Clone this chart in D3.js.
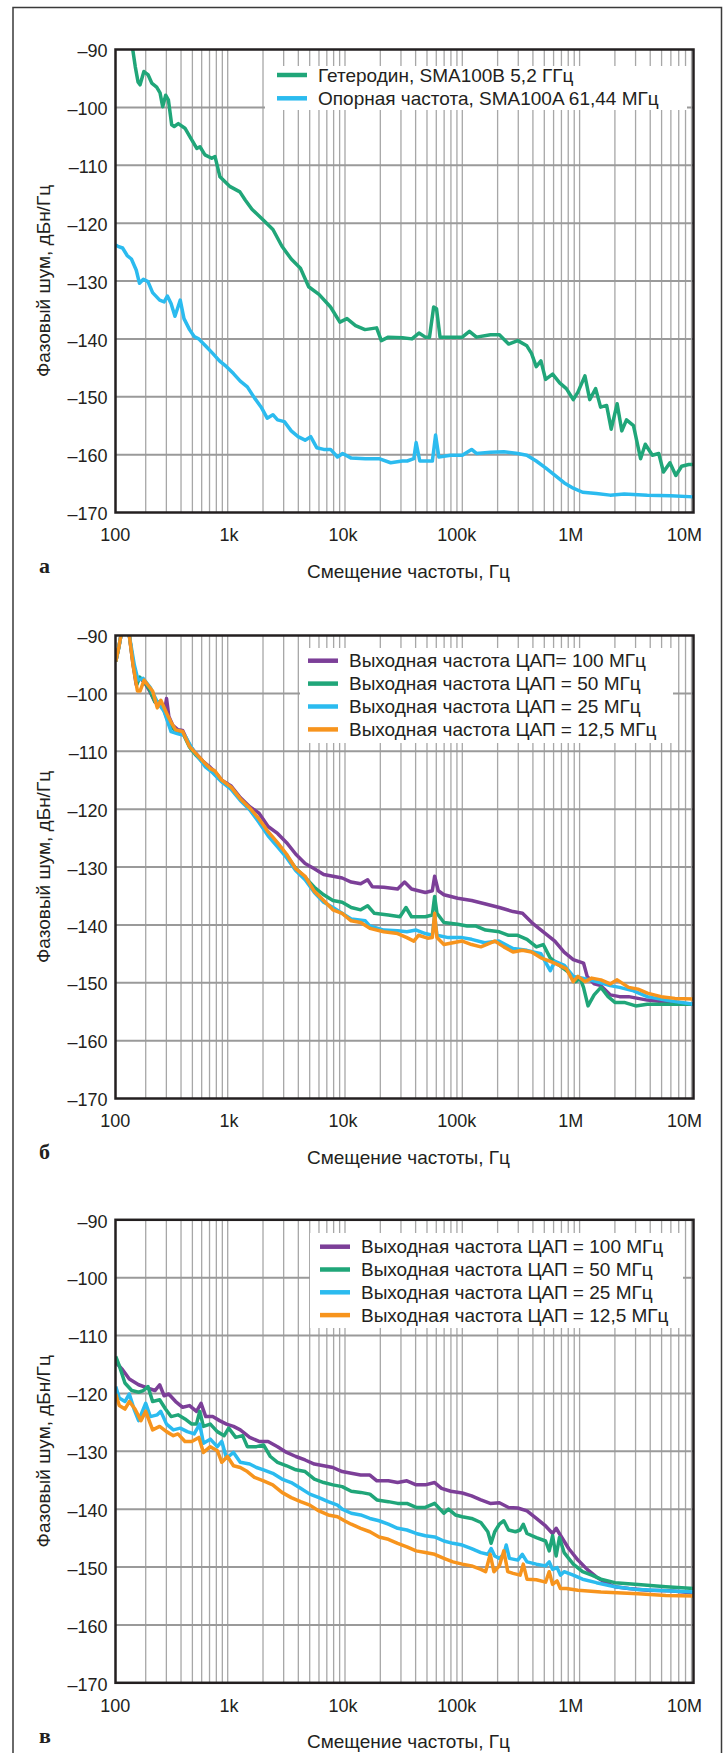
<!DOCTYPE html>
<html>
<head>
<meta charset="utf-8">
<script src="https://cdnjs.cloudflare.com/ajax/libs/d3/7.8.5/d3.min.js"></script>
<style>
body{margin:0;background:#fff;}
text{font-family:"Liberation Sans",Arial,sans-serif;fill:#231f20;}
</style>
</head>
<body>
<div id="chart"></div>
<script>
// оси
var xTicks = [100, 1e3, 1e4, 1e5, 1e6, 1e7];
var xTickLabels = ["100", "1k", "10k", "100k", "1M", "10M"];
var yTicks = [-170, -160, -150, -140, -130, -120, -110, -100, -90];
var xTitle = "Смещение частоты, Гц";
var yTitle = "Фазовый шум, дБн/Гц";
var panelLabels = ["а", "б", "в"];

var legendA = ["Гетеродин, SMA100B 5,2 ГГц", "Опорная частота, SMA100A 61,44 МГц"];
var legendB = ["Выходная частота ЦАП= 100 МГц", "Выходная частота ЦАП = 50 МГц",
    "Выходная частота ЦАП = 25 МГц", "Выходная частота ЦАП = 12,5 МГц"];
var legendC = ["Выходная частота ЦАП = 100 МГц", "Выходная частота ЦАП = 50 МГц",
    "Выходная частота ЦАП = 25 МГц", "Выходная частота ЦАП = 12,5 МГц"];

// [частота, Гц ; шум, дБн/Гц]
var loA = [[150,-87],[155,-90],[163,-93],[172,-95.6],[179,-96.1],[193,-93.8],[210,-94.4],[225,-95.8],[248,-96.5],
    [265,-97.5],[279,-99.9],[296,-97.9],[312,-98.7],[333,-103],[350,-103.3],[379,-102.8],[432,-103.6],[477,-105.1],
    [545,-107.1],[580,-106.8],[640,-108.2],[731,-108.8],[780,-108.5],[859,-112],[1050,-113.7],[1270,-114.6],
    [1410,-116],[1610,-117.6],[2020,-119.5],[2430,-121.1],[2900,-124],[3480,-126.2],[4170,-127.8],[4900,-131],
    [6000,-132.3],[7530,-134.5],[9040,-137.1],[10400,-136.5],[12300,-137.7],[14800,-138.4],[18600,-138.1],
    [20400,-140.3],[23400,-139.7],[30900,-139.8],[37200,-140],[42700,-139],[48400,-139.7],[52500,-139.7],
    [57000,-134.5],[60300,-134.8],[64600,-139.7],[83200,-139.7],[100000,-139.7],[115000,-138.7],[132000,-139.7],
    [174000,-139.3],[207000,-139.3],[248000,-140.9],[297000,-140.3],[355000,-141.2],[389000,-142.5],
    [427000,-144.8],[468000,-143.8],[513000,-147],[589000,-146.1],[676000,-147.6],[771000,-148.6],
    [883000,-150.5],[968000,-149.2],[1.11e6,-146.4],[1.22e6,-150.5],[1.37e6,-148.6],[1.51e6,-151.8],
    [1.70e6,-151.5],[1.86e6,-155.6],[2.09e6,-151.2],[2.29e6,-155.9],[2.51e6,-154],[2.88e6,-155],
    [3.31e6,-160.7],[3.63e6,-158.2],[4.17e6,-160.1],[4.73e6,-159.8],[5.19e6,-163],[5.89e6,-161.4],
    [6.61e6,-163.6],[7.41e6,-162],[8.51e6,-161.7],[9.4e6,-161.7]];
var refA = [[111,-123.8],[116,-124],[127,-124.3],[139,-125.6],[151,-126.2],[166,-128.1],[177,-130.4],[191,-129.7],
    [209,-130.1],[229,-132],[263,-133.3],[287,-133.6],[306,-132.6],[329,-133.9],[355,-136.1],[377,-134.5],
    [394,-133.3],[424,-136.5],[473,-138.4],[518,-139.6],[566,-140],[646,-141.2],[745,-142.5],[851,-143.8],
    [977,-144.8],[1120,-146],[1280,-147.3],[1470,-148.3],[1690,-150.2],[1930,-151.8],[2170,-153.7],
    [2430,-153.1],[2660,-154],[3040,-154.3],[3480,-155.9],[3980,-156.9],[4570,-157.5],[5100,-156.9],
    [5740,-158.8],[6580,-159.1],[7530,-159.1],[8630,-160.4],[9550,-159.8],[11300,-160.6],[14900,-160.7],
    [19500,-160.7],[24500,-161.4],[30800,-161.1],[33900,-161.1],[38600,-160.7],[40400,-157.9],[43400,-161.1],
    [55600,-161.1],[59200,-156.6],[63100,-160.4],[79400,-160.1],[100000,-160.1],[120000,-159.1],
    [132000,-159.8],[174000,-159.6],[226000,-159.5],[297000,-159.8],[355000,-160.1],[427000,-161.1],
    [513000,-162.3],[617000,-163.6],[741000,-164.9],[883000,-165.8],[1.06e6,-166.5],[1.39e6,-166.7],
    [1.82e6,-167],[2.4e6,-166.8],[3.78e6,-167],[5.96e6,-167.1],[9.4e6,-167.3]];

var dac100B = [[111,-94.5],[118,-92],[123,-90],[130,-88],[145,-90],[156,-95],[166,-98.5],[176,-97.3],[194,-98],
    [215,-99.5],[240,-101.5],[265,-101.8],[290,-103],[301,-100.9],[315,-104],[340,-105.5],[377,-106.3],
    [413,-106.4],[473,-109],[542,-110.5],[621,-111.8],[711,-112.8],[776,-113.5],[891,-115],[1070,-116],
    [1280,-118],[1540,-119.6],[1850,-120.7],[2210,-123],[2660,-124.2],[3180,-125.8],[3810,-127.8],
    [4570,-129.4],[5480,-130.3],[6580,-131.3],[7890,-131.6],[9460,-131.9],[11300,-132.6],[13600,-132.9],
    [15600,-132.2],[17100,-133.4],[21400,-133.5],[28100,-133.8],[32200,-132.6],[36900,-133.8],[48400,-134.4],
    [55500,-134.1],[58100,-131.6],[62400,-134.1],[69700,-134.8],[91400,-135.4],[120000,-135.8],
    [158000,-136.4],[207000,-137],[271000,-137.7],[326000,-138],[391000,-139.6],[490000,-141.2],
    [615000,-142.8],[738000,-144.7],[883000,-146],[1.08e6,-146.6],[1.16e6,-148.9],[1.33e6,-150.2],
    [1.52e6,-150.5],[1.83e6,-152.1],[2.19e6,-152.4],[2.62e6,-152.4],[3.78e6,-153],[5.94e6,-153.4],[9.4e6,-153.7]];
var dac50B = [[111,-94.5],[118,-92],[123,-90],[130,-87.5],[145,-90],[158,-95.5],[168,-98.5],[178,-97.2],[194,-97.9],
    [215,-99.3],[240,-101.5],[265,-101.5],[290,-103.2],[320,-105.5],[360,-106.5],[413,-106.8],[473,-109.3],
    [542,-110.8],[621,-112],[711,-113.2],[891,-115.2],[1070,-116.3],[1280,-118.3],[1540,-120],[1850,-122],
    [2210,-124.2],[2660,-126],[3180,-128],[3800,-130.2],[4570,-131.8],[5480,-133.5],[6580,-134.8],
    [7890,-135.8],[9460,-136.1],[11300,-137],[13600,-137.4],[15600,-136.7],[17800,-138],[23400,-138.3],
    [29400,-138.6],[33100,-137],[36900,-138.6],[48400,-138.6],[55500,-138.3],[58100,-135.1],[60800,-138],
    [69700,-139.6],[91400,-139.9],[110000,-140.2],[131000,-140.2],[158000,-140.9],[207000,-141.2],
    [248000,-141.8],[297000,-141.8],[356000,-142.5],[428000,-143.8],[490000,-143.4],[561000,-145.7],
    [673000,-147],[807000,-148.2],[925000,-149.8],[1.01e6,-149.2],[1.08e6,-150.8],[1.18e6,-154],
    [1.33e6,-152.1],[1.52e6,-150.8],[1.75e6,-152.4],[2e6,-153.4],[2.4e6,-153.4],[3.01e6,-154],
    [3.78e6,-153.7],[5.94e6,-153.7],[9.4e6,-153.7]];
var dac25B = [[111,-94.5],[118,-92],[123,-90],[130,-87],[145,-90],[160,-95.1],[172,-97.7],[190,-97.4],[219,-99],
    [251,-101.5],[287,-103.1],[329,-106.6],[377,-107],[432,-107.3],[496,-109.5],[566,-111.1],[646,-112.7],
    [745,-113.7],[891,-115.3],[1070,-116.6],[1280,-118.5],[1540,-120.1],[1850,-122.3],[2210,-124.6],
    [2660,-126.5],[3180,-128.4],[3800,-130.6],[4570,-132.2],[5480,-134.4],[6580,-136.1],[7890,-137],
    [9440,-138],[11300,-139],[14900,-139.3],[16300,-140.2],[21400,-140.9],[28100,-141],[33700,-141.2],
    [40400,-140.9],[48400,-141.5],[55500,-141.8],[58100,-138.3],[60800,-141.8],[76000,-142.2],
    [100000,-142.2],[120000,-142.5],[155000,-143.1],[205000,-142.8],[271000,-144.1],[355000,-144.4],
    [468000,-145],[562000,-147.9],[617000,-146.3],[741000,-147],[883000,-148.9],[1.06e6,-149.2],
    [1.39e6,-149.8],[1.82e6,-150.5],[2.19e6,-150.8],[2.88e6,-151.4],[3.78e6,-152.4],[5.4e6,-153],[9.4e6,-153.7]];
var dac12B = [[111,-94.5],[118,-92],[123,-90],[130,-88],[145,-90],[156,-95.1],[170,-99.6],[179,-99.6],[194,-97.7],
    [209,-98.6],[229,-99.6],[251,-102.5],[269,-101.2],[301,-103.4],[329,-105],[360,-106.3],[413,-106.6],
    [473,-109.2],[542,-110.5],[621,-111.8],[711,-113],[776,-113.4],[891,-115],[1070,-116.2],[1280,-118.2],
    [1540,-119.8],[1850,-121.7],[2210,-123.9],[2660,-125.8],[3180,-127.8],[3800,-130.3],[4570,-131.6],
    [5480,-134.2],[6580,-135.8],[7890,-137.4],[9440,-138],[11300,-139.3],[13600,-139.6],[16300,-140.6],
    [21400,-141.2],[28100,-141.5],[33700,-142.2],[38600,-142.8],[42300,-141.8],[50700,-142.3],
    [55500,-142.2],[58100,-138],[60800,-142.2],[69700,-143.4],[83200,-143.1],[100000,-142.8],
    [120000,-143.4],[144000,-143.8],[189000,-142.8],[226000,-143.8],[271000,-144.7],[325000,-144.4],
    [389000,-144.7],[468000,-145.7],[562000,-146.3],[673000,-147],[771000,-147.6],[883000,-149.8],
    [968000,-148.9],[1.11e6,-149.8],[1.27e6,-149.2],[1.52e6,-149.5],[1.82e6,-150.2],[2.09e6,-149.5],
    [2.62e6,-150.8],[3.15e6,-151.1],[3.78e6,-151.8],[4.95e6,-152.4],[6.5e6,-152.7],[9.4e6,-152.8]];

var dac100C = [[111,-114.6],[127,-115.9],[145,-117.5],[174,-118.5],[209,-119.1],[240,-119.5],[263,-118.5],
    [287,-120.4],[314,-120.1],[360,-121.4],[413,-122.4],[473,-122.1],[542,-123.1],[593,-121.7],[650,-124],
    [745,-124],[853,-124.7],[977,-125.3],[1120,-125.7],[1280,-126.3],[1540,-127.6],[1850,-128.3],
    [2210,-128.3],[2660,-129.2],[3180,-130.2],[3810,-130.9],[4570,-131.5],[5480,-132.2],[6580,-132.5],
    [7890,-132.8],[9460,-133.5],[11300,-133.8],[13600,-134.1],[16300,-134.1],[18700,-135.1],[23400,-135.1],
    [28100,-135.4],[33700,-135.1],[40400,-135.8],[48400,-135.8],[58100,-135.4],[66500,-136.4],[79800,-136.9],
    [100000,-137.2],[120000,-137.7],[144000,-138.4],[173000,-139],[207000,-138.9],[248000,-139.7],
    [297000,-139.8],[356000,-140.3],[428000,-141.6],[513000,-142.9],[588000,-144.2],[631000,-143.3],
    [705000,-144.9],[807000,-146.8],[968000,-148.8],[1.16e6,-150.4],[1.39e6,-151.7],[1.67e6,-152.7],
    [2e6,-153.4],[2.62e6,-153.7],[3.78e6,-154],[5.94e6,-154.1],[9.4e6,-154.5]];
var dac50C = [[111,-113.6],[119,-115.2],[133,-118.2],[152,-119.5],[174,-119.8],[191,-119.5],[209,-118.8],
    [229,-121.4],[263,-121.1],[295,-122.7],[329,-124],[377,-123.7],[432,-124.4],[494,-125.3],[542,-125.3],
    [577,-123.1],[621,-125.7],[711,-125.3],[815,-126.6],[933,-127.3],[1020,-126],[1170,-127.6],[1340,-127.3],
    [1470,-129.2],[1760,-129.2],[2020,-128.9],[2310,-130.9],[2660,-131.9],[3180,-132.5],[3810,-133.2],
    [4570,-133.5],[5480,-134.8],[6580,-135.4],[7890,-135.8],[9460,-136.1],[11300,-136.9],[13600,-137.1],
    [16300,-137.4],[18700,-138.4],[23400,-138.7],[28100,-139],[33700,-139],[40400,-139.7],[48400,-139.7],
    [58100,-139],[69700,-140.7],[76200,-140],[87300,-141],[100000,-141.3],[120000,-141.6],[144000,-142.3],
    [165000,-143.9],[176000,-145.9],[189000,-143.9],[207000,-142.6],[226000,-142],[248000,-143.6],
    [284000,-143.9],[311000,-143.6],[331000,-142.6],[356000,-144.2],[428000,-144.9],[513000,-145.5],
    [551000,-147.2],[588000,-144.6],[631000,-148.1],[673000,-144.9],[738000,-147.5],[883000,-149.5],
    [1.06e6,-150.8],[1.27e6,-151.4],[1.52e6,-152.1],[2e6,-152.7],[3.15e6,-153],[5.43e6,-153.4],[9.4e6,-153.7]];
var dac25C = [[111,-118.8],[119,-120.8],[133,-121.4],[145,-120.1],[159,-122.7],[174,-124.7],[200,-121.7],
    [219,-124],[251,-123.7],[269,-123.1],[301,-125.3],[344,-126.3],[394,-126],[452,-126.6],[518,-127],
    [577,-125.3],[621,-128.6],[711,-127.9],[815,-129.2],[891,-128.3],[977,-131.2],[1120,-130.2],[1280,-131.9],
    [1540,-132.2],[1760,-132.8],[2020,-133.2],[2420,-133.8],[2900,-134.8],[3480,-135.4],[4180,-136.4],
    [5010,-137.4],[6000,-138],[7190,-138.7],[8630,-139.3],[9460,-140],[11300,-140.7],[13600,-141],
    [16300,-141.6],[19500,-142],[23400,-142.6],[28100,-143.3],[33700,-143.6],[40400,-144.2],[48400,-144.6],
    [58100,-144.8],[69700,-145.5],[83200,-145.9],[100000,-146.2],[120000,-146.8],[144000,-147.5],
    [165000,-147.8],[176000,-146.8],[189000,-148.1],[207000,-148.5],[226000,-147.8],[237000,-146.2],
    [252000,-148.5],[297000,-148.8],[325000,-147.8],[356000,-149.1],[428000,-149.5],[513000,-149.8],
    [551000,-149.1],[588000,-150.4],[643000,-150.1],[686000,-151.4],[738000,-150.8],[883000,-151.4],
    [1.06e6,-152.1],[1.39e6,-152.7],[2e6,-153.4],[3.15e6,-153.9],[5.43e6,-154.1],[9.4e6,-154.3]];
var dac12C = [[111,-120.1],[119,-122.1],[133,-122.7],[145,-121.4],[162,-122.7],[182,-124.7],[200,-123.1],
    [229,-126.3],[263,-125.7],[301,-126.6],[344,-127.3],[377,-127],[432,-128.3],[494,-128.3],[568,-127.6],
    [621,-130.2],[711,-129.2],[815,-129.9],[891,-131.9],[995,-130.9],[1120,-132.5],[1280,-132.8],
    [1470,-133.5],[1690,-134.5],[2020,-135.1],[2420,-135.8],[2900,-137.1],[3480,-138],[4180,-138.7],
    [5010,-139.3],[6000,-140.3],[7190,-141],[8630,-141.3],[9890,-142],[11300,-142.6],[13600,-143.3],
    [16300,-143.9],[19500,-144.8],[23400,-145.2],[28100,-145.9],[33700,-146.5],[40400,-147.2],[48400,-147.5],
    [58100,-147.8],[69700,-148.5],[83200,-149.1],[100000,-149.5],[120000,-149.8],[144000,-150.4],
    [158000,-150.8],[173000,-147.8],[186000,-150.8],[207000,-149.8],[226000,-147.2],[244000,-150.8],
    [271000,-151.1],[311000,-151.4],[331000,-149.5],[356000,-152.1],[428000,-152.2],[513000,-152.6],
    [551000,-150.8],[588000,-153],[643000,-152.4],[686000,-153.7],[771000,-153.7],[968000,-154],
    [1.52e6,-154.3],[3.15e6,-154.6],[5.43e6,-154.9],[9.4e6,-155]];

var colors = {green:"#20a679", cyan:"#2bbbef", purple:"#7c3f98", orange:"#f7941d"};

var W = 725, H = 1753;
var plotL = 115.5, plotR = 693.5, plotT = 49.5, plotB = 512.5;

var svg = d3.select("#chart").append("svg")
    .attr("width", W)
    .attr("height", H);

// рамка вокруг всего рисунка, снизу открыта
svg.append("path")
    .attr("d", "M13," + H + " L13,7.5 L721.5,7.5 L721.5," + H)
    .attr("fill", "none")
    .attr("stroke", "#3a3a3a")
    .attr("stroke-width", 1.5);

var x = d3.scaleLog().domain([100, 1e7]).range([110.4, 696.9]);
var xLabel = d3.scaleLog().domain([100, 1e7]).range([114.7, 684]);
var y = d3.scaleLinear().domain([-170, -90]).range([plotB, plotT]);

function creatPanel(n, top, series, names, lg){
    this.n = n;
    this.g = svg.append("g").attr("transform", "translate(0," + top + ")");
    this.series = series;
    this.names = names;
    this.lg = lg;
}
creatPanel.prototype.init = function(){
    var g = this.g, n = this.n;
    g.append("clipPath").attr("id", "clip" + n)
        .append("rect")
        .attr("x", plotL).attr("y", plotT)
        .attr("width", plotR - plotL).attr("height", plotB - plotT);

    var vgrid = x.ticks().filter(function(d){ return x(d) > plotL + 1 && x(d) < plotR - 1; });
    g.append("g").selectAll("line").data(vgrid).enter().append("line")
        .attr("x1", function(d){ return x(d); })
        .attr("x2", function(d){ return x(d); })
        .attr("y1", plotT).attr("y2", plotB)
        .attr("stroke", "#a7a7a7")
        .attr("stroke-width", 1.3);
    g.append("g").selectAll("line").data(yTicks.slice(1, -1)).enter().append("line")
        .attr("x1", plotL).attr("x2", plotR)
        .attr("y1", function(d){ return y(d); })
        .attr("y2", function(d){ return y(d); })
        .attr("stroke", "#9a9a9a")
        .attr("stroke-width", 2);

    var line = d3.line()
        .x(function(d){ return x(d[0]); })
        .y(function(d){ return y(d[1]); });
    g.append("g").attr("clip-path", "url(#clip" + n + ")")
        .selectAll("path").data(this.series).enter().append("path")
        .attr("d", function(s){ return line(s.values); })
        .attr("fill", "none")
        .attr("stroke", function(s){ return s.color; })
        .attr("stroke-width", 3.5)
        .attr("stroke-linejoin", "round");

    this.legend();

    g.append("rect")
        .attr("x", plotL).attr("y", plotT)
        .attr("width", plotR - plotL).attr("height", plotB - plotT)
        .attr("fill", "none")
        .attr("stroke", "#231f20")
        .attr("stroke-width", 2.5);

    var ya = g.append("g")
        .attr("transform", "translate(" + plotL + ",0)")
        .call(d3.axisLeft(y).tickValues(yTicks).tickSize(0).tickPadding(8)
            .tickFormat(function(d){ return "–" + Math.abs(d); }));
    ya.select(".domain").remove();
    ya.selectAll("text").attr("font-size", 18).attr("dy", "0.4em")
        .attr("font-family", "Liberation Sans, Arial, sans-serif").attr("fill", "#231f20");

    var xa = g.append("g")
        .attr("transform", "translate(0," + plotB + ")")
        .call(d3.axisBottom(xLabel).tickValues(xTicks).tickSize(0).tickPadding(16)
            .tickFormat(function(d, i){ return xTickLabels[i]; }));
    xa.select(".domain").remove();
    xa.selectAll("text").attr("font-size", 18)
        .attr("font-family", "Liberation Sans, Arial, sans-serif").attr("fill", "#231f20");

    g.append("text")
        .attr("transform", "translate(50," + ((plotT + plotB) / 2) + ") rotate(-90)")
        .attr("text-anchor", "middle")
        .attr("font-size", 19)
        .text(yTitle);
    g.append("text")
        .attr("x", (plotL + plotR) / 2 + 4)
        .attr("y", 578)
        .attr("text-anchor", "middle")
        .attr("font-size", 19)
        .text(xTitle);
    g.append("text")
        .attr("x", 39)
        .attr("y", 573)
        .attr("font-size", 22)
        .attr("font-weight", "bold")
        .style("font-family", "Liberation Serif, Times New Roman, serif")
        .text(panelLabels[n]);
}
// легенда на белой подложке
creatPanel.prototype.legend = function(){
    var lg = this.lg, g = this.g.append("g"), names = this.names;
    g.append("rect")
        .attr("x", lg.x).attr("y", lg.y)
        .attr("width", lg.w).attr("height", lg.h)
        .attr("fill", "#fff");
    this.series.forEach(function(s, i){
        var cy = lg.row + i * lg.step;
        g.append("line")
            .attr("x1", lg.sx).attr("x2", lg.sx + 30)
            .attr("y1", cy).attr("y2", cy)
            .attr("stroke", s.color)
            .attr("stroke-width", 4.5);
        g.append("text")
            .attr("x", lg.sx + 41)
            .attr("y", cy + 6.6)
            .attr("font-size", 19)
            .text(names[i]);
    });
}

var pa = new creatPanel(0, 0,
    [{values: loA, color: colors.green}, {values: refA, color: colors.cyan}],
    legendA, {x: 265, y: 66, w: 422, h: 44, row: 75, step: 23.3, sx: 277});
pa.init();
var pb = new creatPanel(1, 586,
    [{values: dac100B, color: colors.purple}, {values: dac50B, color: colors.green},
     {values: dac25B, color: colors.cyan}, {values: dac12B, color: colors.orange}],
    legendB, {x: 300, y: 62, w: 373, h: 95, row: 74.7, step: 22.9, sx: 308});
pb.init();
var pc = new creatPanel(2, 1170.3,
    [{values: dac100C, color: colors.purple}, {values: dac50C, color: colors.green},
     {values: dac25C, color: colors.cyan}, {values: dac12C, color: colors.orange}],
    legendC, {x: 310, y: 62.7, w: 373, h: 95, row: 76.4, step: 22.8, sx: 320});
pc.init();
</script>
</body>
</html>
